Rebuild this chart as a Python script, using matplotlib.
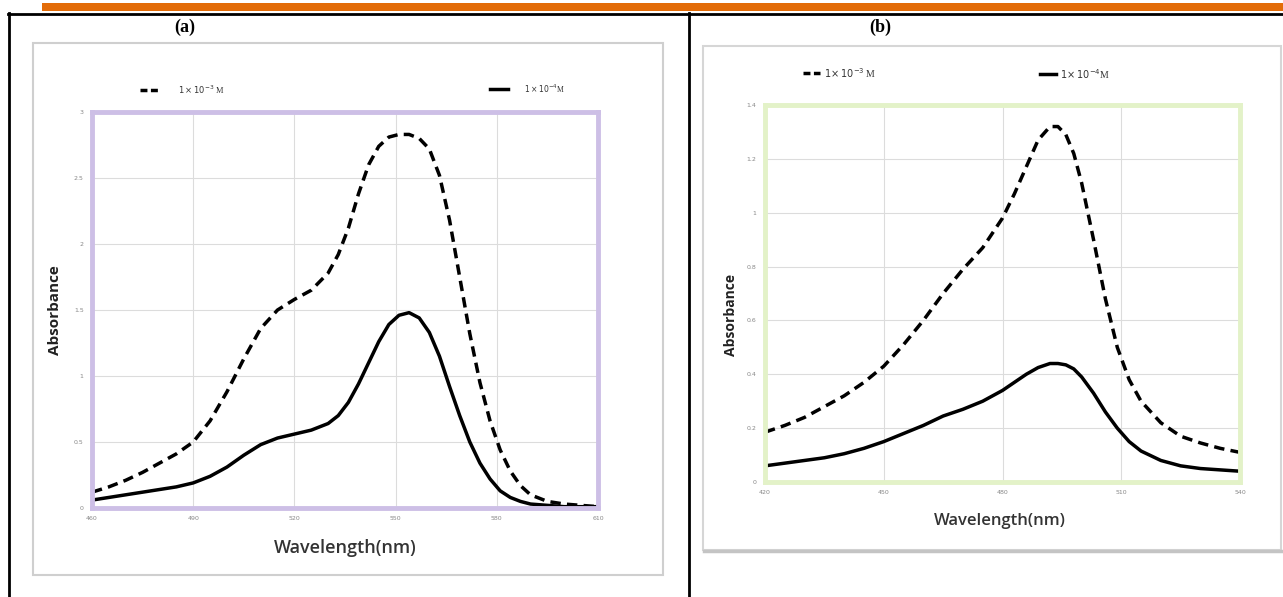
import matplotlib.pyplot as plt
from matplotlib.patches import Rectangle
from matplotlib.lines import Line2D

W, H = 1283, 597

# panel (a) data, 460-610 nm
wl_a = [460, 465, 470, 475, 480, 485, 490, 495, 500, 505, 510, 515, 520, 525, 530,
        533, 536, 539, 542, 545, 548, 551, 554, 557, 560, 563, 566, 569, 572, 575,
        578, 581, 584, 587, 590, 595, 600, 605, 610]
abs_a_1e3 = [0.12, 0.16, 0.21, 0.27, 0.34, 0.41, 0.50, 0.66, 0.88, 1.13, 1.36, 1.50, 1.58, 1.65, 1.78,
             1.92, 2.12, 2.38, 2.60, 2.74, 2.81, 2.83, 2.83, 2.80, 2.72, 2.52, 2.18, 1.75, 1.32, 0.95,
             0.66, 0.44, 0.28, 0.17, 0.10, 0.05, 0.03, 0.02, 0.01]
abs_a_1e4 = [0.06, 0.08, 0.10, 0.12, 0.14, 0.16, 0.19, 0.24, 0.31, 0.40, 0.48, 0.53, 0.56, 0.59, 0.64,
             0.70, 0.80, 0.94, 1.10, 1.26, 1.39, 1.46, 1.48, 1.44, 1.33, 1.15, 0.92, 0.70, 0.50, 0.34,
             0.22, 0.13, 0.08, 0.05, 0.03, 0.02, 0.01, 0.01, 0.01]

# panel (b) data, 420-540 nm
wl_b = [420, 425, 430, 435, 440, 445, 450, 455, 460, 465, 470, 475, 480, 483, 486,
        489, 492, 494, 496, 498, 500, 503, 506, 509, 512, 515, 520, 525, 530, 535, 540]
abs_b_1e3 = [0.185, 0.21, 0.24, 0.28, 0.32, 0.37, 0.43, 0.51, 0.60, 0.70, 0.79, 0.87, 0.98, 1.07, 1.17,
             1.27, 1.32, 1.32, 1.29, 1.22, 1.11, 0.90, 0.68, 0.50, 0.38, 0.30, 0.22, 0.17, 0.145, 0.125, 0.11]
abs_b_1e4 = [0.06, 0.07, 0.08, 0.09, 0.105, 0.125, 0.15, 0.18, 0.21, 0.245, 0.27, 0.30, 0.34, 0.37, 0.40,
             0.425, 0.44, 0.44, 0.435, 0.42, 0.39, 0.33, 0.26, 0.20, 0.15, 0.115, 0.08, 0.06, 0.05, 0.045, 0.04]


def fx(px):
    return px / W


def fy(py):
    return 1 - py / H


fig = plt.figure(figsize=(W / 100, H / 100), dpi=100)
fig.patch.set_facecolor('white')

# page decorations: orange rule and table borders
fig.add_artist(Rectangle((fx(42), fy(11)), fx(W - 42), 8 / H, color='#e36c09', lw=0))
fig.add_artist(Line2D([fx(8), 1], [fy(13.5), fy(13.5)], color='black', lw=2))
fig.add_artist(Line2D([fx(9), fx(9)], [fy(13), 0], color='black', lw=2))
fig.add_artist(Line2D([fx(689), fx(689)], [fy(13), 0], color='black', lw=2))

# picture frames
fig.add_artist(Rectangle((fx(33), fy(575)), fx(630), 532 / H, fill=False, ec='#cfcfcf', lw=1.5))
fig.add_artist(Rectangle((fx(703), fy(550)), fx(578), 504 / H, fill=False, ec='#d6d6d6', lw=1.5))
fig.add_artist(Line2D([fx(704), fx(1281)], [fy(551), fy(551)], color='#c4c4c4', lw=2.5))

fig.text(fx(185), fy(27), '(a)', family='Liberation Serif', weight='bold', fontsize=13,
         ha='center', va='center')
fig.text(fx(880), fy(27), '(b)', family='Liberation Serif', weight='bold', fontsize=13,
         ha='center', va='center')


def style_axes(ax, border):
    ax.grid(True, color='#dcdcdc', lw=0.8)
    ax.set_axisbelow(True)
    for s in ax.spines.values():
        s.set_color(border)
        s.set_linewidth(3.5)
    ax.tick_params(length=0, labelsize=4.5, labelcolor='#888888', pad=6)


def draw_curves(ax, x, y_dash, y_solid):
    ax.plot(x, y_dash, color='black', lw=2.5, ls=(0, (3, 1.8)),
            dash_joinstyle='round', dash_capstyle='butt')
    ax.plot(x, y_solid, color='black', lw=2.5, solid_joinstyle='round')


def legend_item(x0, x1, xt, y, txt, dashed, size):
    fig.add_artist(Line2D([fx(x0), fx(x1)], [fy(y), fy(y)], color='black', lw=2.5,
                          ls=(0, (2, 1)) if dashed else '-'))
    fig.text(fx(xt), fy(y), txt, fontsize=size, color='#333333', va='center',
             family='Liberation Serif')


# panel (a)
ax1 = fig.add_axes([fx(92), fy(508), fx(598 - 92), (508 - 112) / H])
draw_curves(ax1, wl_a, abs_a_1e3, abs_a_1e4)
ax1.set_xlim(460, 610)
ax1.set_ylim(0, 3)
ax1.set_xticks([460, 490, 520, 550, 580, 610])
ax1.set_yticks([0, 0.5, 1, 1.5, 2, 2.5, 3])
ax1.set_yticklabels(['0', '0.5', '1', '1.5', '2', '2.5', '3'])
style_axes(ax1, '#cdbfe6')
fig.text(fx(55), fy(310), 'Absorbance', rotation=90, family='Open Sans', weight='bold',
         fontsize=11, color='#222222', ha='center', va='center')
fig.text(fx(345), fy(548), 'Wavelength(nm)', family='Open Sans', weight='semibold',
         fontsize=13, color='#333333', ha='center', va='center')
legend_item(140, 160, 178, 90, r'$1\times10^{-3}$ M', True, 6)
legend_item(490, 508, 524, 89, r'$1\times10^{-4}$M', False, 5.5)

# panel (b)
ax2 = fig.add_axes([fx(765), fy(482), fx(1240 - 765), (482 - 105) / H])
draw_curves(ax2, wl_b, abs_b_1e3, abs_b_1e4)
ax2.set_xlim(420, 540)
ax2.set_ylim(0, 1.4)
ax2.set_xticks([420, 450, 480, 510, 540])
ax2.set_yticks([0, 0.2, 0.4, 0.6, 0.8, 1.0, 1.2, 1.4])
ax2.set_yticklabels(['0', '0.2', '0.4', '0.6', '0.8', '1', '1.2', '1.4'])
style_axes(ax2, '#e3f2c8')
fig.text(fx(731), fy(315), 'Absorbance', rotation=90, family='Open Sans', weight='bold',
         fontsize=10, color='#222222', ha='center', va='center')
fig.text(fx(1000), fy(521), 'Wavelength(nm)', family='Open Sans', weight='semibold',
         fontsize=12, color='#333333', ha='center', va='center')
legend_item(803, 820, 824, 73, r'$1\!\times 10^{-3}$ M', True, 7)
legend_item(1040, 1056, 1060, 74, r'$1\!\times 10^{-4}$M', False, 7)

fig.savefig('out.png', dpi=100)
